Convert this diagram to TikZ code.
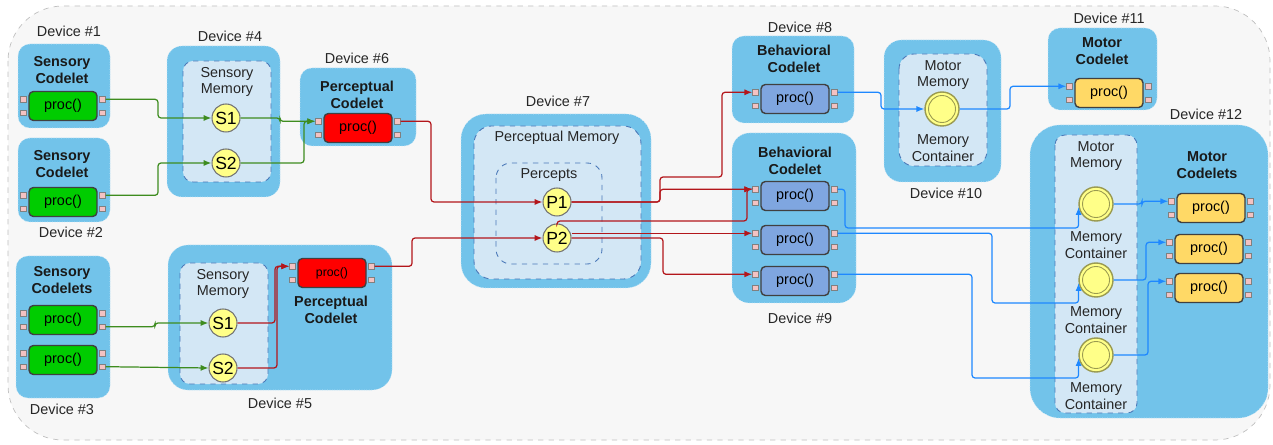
\documentclass[tikz,border=0pt]{standalone}
\usepackage{fontspec}
\setmainfont{Liberation Sans}
\usetikzlibrary{arrows.meta,calc}
\definecolor{devfill}{HTML}{72C3EA}
\definecolor{memfill}{HTML}{D3E7F5}
\definecolor{memline}{HTML}{4A78B8}
\definecolor{circfill}{HTML}{FFFF88}
\definecolor{pgreen}{HTML}{00CC00}
\definecolor{pred}{HTML}{FF0000}
\definecolor{pblue}{HTML}{7FA6E0}
\definecolor{pyellow}{HTML}{FFD966}
\definecolor{portfill}{HTML}{F4C2C2}
\definecolor{glinec}{HTML}{3E8C1F}
\definecolor{rlinec}{HTML}{B3161B}
\definecolor{blinec}{HTML}{1E88FF}
\definecolor{mcline}{HTML}{9A9A50}
\tikzset{
  dev/.style={fill=devfill, draw=white!60!devfill, densely dotted, rounded corners=0.24cm},
  mem/.style={fill=memfill, draw=memline, dashed, rounded corners=0.2cm, line width=0.5pt},
  lbl/.style={font=\fontsize{8.2}{9.6}\selectfont, text=black!85, align=center},
  ttl/.style={font=\bfseries\fontsize{8.2}{9.6}\selectfont, align=center, text=black!90},
  procn/.style={draw=black!75, line width=0.8pt, rounded corners=2.5pt, minimum width=1.36cm, minimum height=0.58cm, font=\fontsize{8.2}{9}\selectfont, inner sep=0pt},
  port/.style={draw=black!50, fill=portfill, minimum width=0.12cm, minimum height=0.11cm, inner sep=0pt, line width=0.3pt},
  sc/.style={circle, fill=circfill, draw=black!55, minimum size=0.56cm, inner sep=0pt, font=\fontsize{10}{10}\selectfont, line width=0.6pt},
  mc/.style={circle, fill=circfill, draw=mcline, minimum size=0.68cm, inner sep=0pt, line width=0.8pt},
  arr/.style={line width=0.7pt, rounded corners=0.06cm, -{Latex[length=4.5pt,width=3.5pt]}},
  gw/.style={arr, draw=glinec},
  rw/.style={arr, draw=rlinec},
  bw/.style={arr, draw=blinec},
}
\newcommand\procbx[5]{%
  \node[procn, fill=#4] (#1) at (#2,#3) {#5};
  \node[port, anchor=east] (#1-lu) at ($(#1.west)+(-0.03cm,0.134cm)$) {};
  \node[port, anchor=east] (#1-ll) at ($(#1.west)+(-0.03cm,-0.134cm)$) {};
  \node[port, anchor=west] (#1-ru) at ($(#1.east)+(0.03cm,0.134cm)$) {};
  \node[port, anchor=west] (#1-rl) at ($(#1.east)+(0.03cm,-0.134cm)$) {};
}
\newcommand\mcirc[3]{%
  \node[mc] (#1) at (#2,#3) {};
  \draw[mcline, line width=0.5pt] (#1.center) circle (0.27cm);
}
\begin{document}
\begin{tikzpicture}[x=0.02cm,y=-0.02cm]
\useasboundingbox (0,0) rectangle (1273,445);
\draw[fill=black!3, draw=black!25, dashed, rounded corners=1.1cm] (8,6) rectangle (1270,440);

% Device boxes
\draw[dev] (18,44) rectangle (110,128);
\draw[dev] (18,138) rectangle (110,222);
\draw[dev] (16,256) rectangle (110,398);
\draw[dev, rounded corners=0.3cm] (167,46) rectangle (280,197);
\draw[mem] (183,61) rectangle (271,182);
\draw[dev] (300,68) rectangle (416,146);
\draw[dev, rounded corners=0.4cm] (168,245) rectangle (392,390);
\draw[mem] (180,263) rectangle (268,384);
\draw[dev, rounded corners=0.5cm] (461,114) rectangle (651,288);
\draw[mem, rounded corners=0.35cm] (474,126) rectangle (641,279);
\draw[mem, rounded corners=0.3cm] (496,163) rectangle (602,264);
\draw[dev] (732,36) rectangle (854,123);
\draw[dev, rounded corners=0.35cm] (732,133) rectangle (856,303);
\draw[dev, rounded corners=0.35cm] (884,40) rectangle (1001,182);
\draw[mem, rounded corners=0.3cm] (899,54) rectangle (987,166);
\draw[dev] (1048,28) rectangle (1157,110);
\draw[dev, rounded corners=0.6cm] (1030,125) rectangle (1268,418);
\draw[mem] (1055,135) rectangle (1137,413);

% Device labels
\node[lbl] (l1) at (69,31) {Device \#1};
\node[lbl] (l2) at (71,232) {Device \#2};
\node[lbl] (l3) at (62,409) {Device \#3};
\node[lbl] (l4) at (230,36) {Device \#4};
\node[lbl] (l5) at (280,403) {Device \#5};
\node[lbl] (l6) at (357,58) {Device \#6};
\node[lbl] (l7) at (558,101) {Device \#7};
\node[lbl] (l8) at (800,27) {Device \#8};
\node[lbl] (l9) at (800,318) {Device \#9};
\node[lbl] (l10) at (946,193) {Device \#10};
\node[lbl] (l11) at (1109,18) {Device \#11};
\node[lbl] (l12) at (1206,114) {Device \#12};

% Titles
\node[ttl] (t1) at (62,70) {Sensory\\Codelet};
\node[ttl] (t2) at (62,164) {Sensory\\Codelet};
\node[ttl] (t3) at (62,280) {Sensory\\Codelets};
\node[ttl] (t6) at (357,95) {Perceptual\\Codelet};
\node[ttl] (t5) at (331,310) {Perceptual\\Codelet};
\node[ttl] (t8) at (794,59) {Behavioral\\Codelet};
\node[ttl] (t9) at (795,161) {Behavioral\\Codelet};
\node[ttl] (t11) at (1102,51) {Motor\\Codelet};
\node[ttl] (t12) at (1207,165) {Motor\\Codelets};

% Memory labels
\node[lbl] (m4) at (227,82) {Sensory\\Memory};
\node[lbl] (m5) at (223,284) {Sensory\\Memory};
\node[lbl] (m7) at (557,138) {Perceptual Memory};
\node[lbl] (m7b) at (549,175) {Percepts};
\node[lbl] (m10) at (943,75) {Motor\\Memory};
\node[lbl] (m10b) at (943,148) {Memory\\Container};
\node[lbl] (m12) at (1096,156) {Motor\\Memory};
\node[lbl] (m12a) at (1096,245) {Memory\\Container};
\node[lbl] (m12b) at (1096,320) {Memory\\Container};
\node[lbl] (m12c) at (1096,396) {Memory\\Container};

% Procs
\procbx{d1p}{63}{106}{pgreen}{proc()}
\procbx{d2p}{63}{202}{pgreen}{proc()}
\procbx{d3a}{63}{320}{pgreen}{proc()}
\procbx{d3b}{63}{360}{pgreen}{proc()}
\procbx{d6p}{358}{128}{pred}{proc()}
\procbx{d5p}{332}{273}{pred}{\fontsize{7}{7}\selectfont proc()}
\procbx{d8p}{795}{99}{pblue}{proc()}
\procbx{d9a}{795}{196}{pblue}{proc()}
\procbx{d9b}{795}{240}{pblue}{proc()}
\procbx{d9c}{795}{281}{pblue}{proc()}
\procbx{d11p}{1109}{93}{pyellow}{proc()}
\procbx{d12a}{1211}{208}{pyellow}{proc()}
\procbx{d12b}{1209}{249}{pyellow}{proc()}
\procbx{d12c}{1209}{288}{pyellow}{proc()}

% Small circles
\node[sc] (s41) at (226,118) {S1};
\node[sc] (s42) at (226,163) {S2};
\node[sc] (s51) at (223,323) {S1};
\node[sc] (s52) at (223,368) {S2};
\node[sc] (p1) at (557,202) {P1};
\node[sc] (p2) at (557,238) {P2};

% Memory containers
\mcirc{mc10}{942}{109}
\mcirc{mc1}{1096}{204}
\mcirc{mc2}{1096}{280}
\mcirc{mc3}{1096}{355}

% Green connectors
\draw[gw] (d1p-ru.east) -| (158,0 |- s41.west) -- (s41.west);
\draw[gw] (d2p-ru.east) -| (158,0 |- s42.west) -- (s42.west);
\draw[gw] (s41.east) -| (280,0 |- d6p-lu.west) -- (d6p-lu.west);
\draw[gw] (s42.east) -| (304,0 |- d6p-lu.west) -- (d6p-lu.west);
\draw[gw] (d3a-rl.east) -| (155,0 |- s51.west) -- (s51.west);
\draw[gw] (d3b-rl.east) -- (s52.west);

% Red connectors
\draw[rw] (s51.east) -| (275,0 |- d5p-lu.west) -- (d5p-lu.west);
\draw[rw] (s52.east) -| (277,0 |- d5p-lu.west) -- (d5p-lu.west);
\draw[rw] (d6p-ru.east) -| (431,0 |- p1.west) -- (p1.west);
\draw[rw] (d5p-ru.east) -| (412,0 |- p2.west) -- (p2.west);
\draw[rw] (p1.east) -| (660,0 |- d9a-lu.west) -- (d9a-lu.west);
\draw[rw] (p1.east) -| (660,177) -| (722,0 |- d8p-lu.west) -- (d8p-lu.west);
\draw[rw] (p2.north) -- (557,221) -| (747,0 |- d9a-lu.west) -- (d9a-lu.west);
\draw[rw] (p2.east |- d9b-lu.west) -- (d9b-lu.west);
\draw[rw] (p2.east) -| (663,0 |- d9c-lu.west) -- (d9c-lu.west);

% Blue connectors
\draw[bw] (d8p-ru.east) -| (881,0 |- mc10.west) -- (mc10.west);
\draw[bw] (mc10.east) -| (1010,0 |- d11p-lu.west) -- (d11p-lu.west);
\draw[bw] (d9a-ru.east) -| (845,228) -| (mc1.190);
\draw[bw] (d9b-ru.east) -| (992,303) -| (mc2.190);
\draw[bw] (d9c-ru.east) -| (972,378) -| (mc3.190);
\draw[bw] (mc1.east) -| (1142,0 |- d12a-lu.west) -- (d12a-lu.west);
\draw[bw] (mc2.east) -| (1146,0 |- d12b-lu.west) -- (d12b-lu.west);
\draw[bw] (mc3.east) -| (1148,0 |- d12c-lu.west) -- (d12c-lu.west);
\end{tikzpicture}
\end{document}
